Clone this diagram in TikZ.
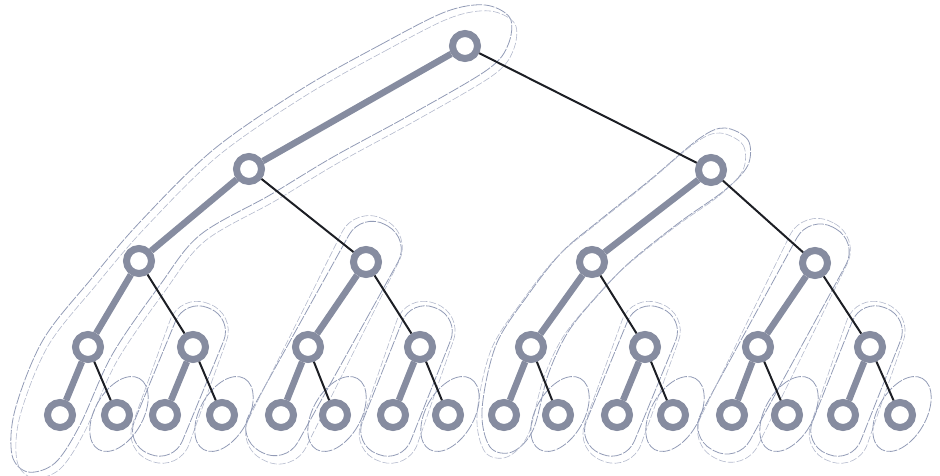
\documentclass[tikz,border=0pt]{standalone}
\usetikzlibrary{calc}
\definecolor{ringc}{RGB}{134,140,160}
\definecolor{blobc}{RGB}{146,155,182}
\definecolor{lightc}{RGB}{28,30,36}
\tikzset{
  nd/.style={circle, draw=ringc, line width=7pt, fill=white, minimum size=25pt, inner sep=0pt},
  heavy/.style={draw=ringc, line width=6.5pt},
  light/.style={draw=lightc, line width=2pt},
  blob/.style={draw=blobc, line width=0.8pt, dash pattern=on 11pt off 1.5pt},
  blobb/.style={draw=blobc!70, line width=0.6pt, dash pattern=on 7pt off 2pt},
}
% heavy-path outline: x1 y1 x2 y2 extension halfwidth
\newcommand\hpblob[6]{%
  \pgfmathsetmacro\bcx{(#1+#3)/2}%
  \pgfmathsetmacro\bcy{(#2+#4)/2}%
  \pgfmathsetmacro\bang{atan2(-(#4-#2),#3-#1)}%
  \pgfmathsetmacro\bhl{veclen(#3-#1,#4-#2)/2+#5}%
  \pgfmathsetmacro\bxa{\bcx-\bhl}%
  \pgfmathsetmacro\bxb{\bcx+\bhl}%
  \pgfmathsetmacro\bya{\bcy-#6}%
  \pgfmathsetmacro\byb{\bcy+#6}%
  \pgfmathsetmacro\brc{0.95*#6}%
  \draw[blob, rotate around={\bang:(\bcx,\bcy)}, rounded corners=\brc pt] (\bxa,\bya) rectangle (\bxb,\byb);
  \pgfmathsetmacro\bxa{\bcx-\bhl-4}%
  \pgfmathsetmacro\bxb{\bcx+\bhl+6}%
  \pgfmathsetmacro\bya{\bcy-#6-5}%
  \pgfmathsetmacro\byb{\bcy+#6+3}%
  \pgfmathsetmacro\brc{0.95*(#6+4)}%
  \pgfmathsetmacro\bangb{\bang+2.5}%
  \draw[blobb, rotate around={\bangb:(\bcx,\bcy)}, rounded corners=\brc pt] (\bxa,\bya) rectangle (\bxb,\byb);
}
\newcommand\leafblob[2]{%
  \draw[blob, rotate around={60:(#1+2,#2-1)}] (#1+2,#2-1) ellipse [x radius=41, y radius=24];
}
\begin{document}
\begin{tikzpicture}[x=1pt, y=-1pt]
\useasboundingbox (0,0) rectangle (940,476);

% ---- outlines of heavy paths ----
\draw[blob] plot[smooth cycle, tension=0.55] coordinates {
  (300,90) (380,45) (445,12) (485,5) (510,18) (508,45) (487,70) (410,115)
  (333,157) (270,195) (200,235) (160,285) (112,355) (80,425) (55,463)
  (28,472) (12,455) (15,410) (43,340) (92,278) (140,222) (213,150)};
\draw[blobb, shift={(5,6)}] plot[smooth cycle, tension=0.55] coordinates {
  (300,90) (380,45) (445,12) (485,5) (510,18) (508,45) (487,70) (410,115)
  (333,157) (270,195) (200,235) (160,285) (112,355) (80,425) (55,463)
  (28,472) (12,455) (15,410) (43,340) (92,278) (140,222) (213,150)};

\draw[blob] plot[smooth cycle, tension=0.55] coordinates {
  (725,128) (748,140) (748,165) (725,190) (680,222) (630,262) (598,295)
  (568,332) (548,375) (533,430) (512,452) (490,447) (482,410) (496,345)
  (528,295) (562,252) (600,220) (650,180) (700,138)};
\draw[blobb, shift={(-5,5)}] plot[smooth cycle, tension=0.55] coordinates {
  (725,128) (748,140) (748,165) (725,190) (680,222) (630,262) (598,295)
  (568,332) (548,375) (533,430) (512,452) (490,447) (482,410) (496,345)
  (528,295) (562,252) (600,220) (650,180) (700,138)};

\hpblob{366}{262}{281}{415}{42}{28}
\hpblob{815}{263}{732}{415}{40}{28}
\hpblob{193}{347}{165}{415}{42}{26}
\hpblob{420}{347}{393}{415}{42}{26}
\hpblob{645}{347}{617}{415}{42}{26}
\hpblob{870}{347}{843}{415}{42}{26}

\leafblob{117}{415}
\leafblob{222}{415}
\leafblob{335}{415}
\leafblob{448}{415}
\leafblob{558}{415}
\leafblob{673}{415}
\leafblob{787}{415}
\leafblob{900}{415}

% ---- nodes ----
\node[nd] (n0) at (465,46) {};
\node[nd] (n1) at (249,169) {};
\node[nd] (n2) at (711,170) {};
\node[nd] (n3) at (139,261) {};
\node[nd] (n4) at (366,262) {};
\node[nd] (n5) at (592,262) {};
\node[nd] (n6) at (815,263) {};
\node[nd] (n7) at (88,347) {};
\node[nd] (n8) at (193,347) {};
\node[nd] (n9) at (308,347) {};
\node[nd] (n10) at (420,347) {};
\node[nd] (n11) at (531,347) {};
\node[nd] (n12) at (645,347) {};
\node[nd] (n13) at (758,347) {};
\node[nd] (n14) at (870,347) {};
\node[nd] (n15) at (60,415) {};
\node[nd] (n16) at (117,415) {};
\node[nd] (n17) at (165,415) {};
\node[nd] (n18) at (222,415) {};
\node[nd] (n19) at (281,415) {};
\node[nd] (n20) at (335,415) {};
\node[nd] (n21) at (393,415) {};
\node[nd] (n22) at (448,415) {};
\node[nd] (n23) at (504,415) {};
\node[nd] (n24) at (558,415) {};
\node[nd] (n25) at (617,415) {};
\node[nd] (n26) at (673,415) {};
\node[nd] (n27) at (732,415) {};
\node[nd] (n28) at (787,415) {};
\node[nd] (n29) at (843,415) {};
\node[nd] (n30) at (900,415) {};

% ---- heavy edges ----
\foreach \a/\b in {n0/n1, n1/n3, n3/n7, n7/n15, n2/n5, n5/n11, n11/n23,
  n4/n9, n9/n19, n6/n13, n13/n27, n8/n17, n10/n21, n12/n25, n14/n29}
  \draw[heavy] (\a) -- (\b);
% ---- light edges ----
\foreach \a/\b in {n0/n2, n1/n4, n3/n8, n7/n16, n4/n10, n9/n20, n8/n18,
  n10/n22, n2/n6, n5/n12, n11/n24, n6/n14, n13/n28, n12/n26, n14/n30}
  \draw[light] (\a) -- (\b);
\end{tikzpicture}
\end{document}
